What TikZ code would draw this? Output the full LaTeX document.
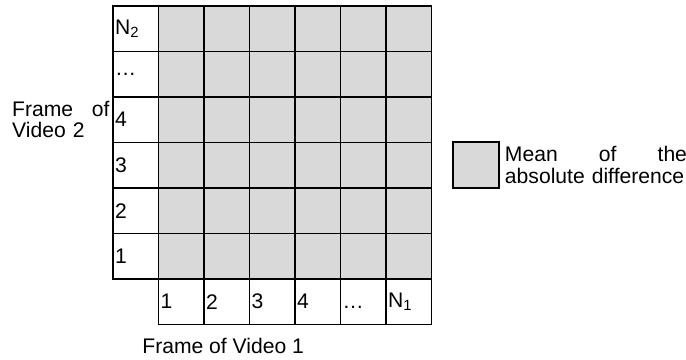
\documentclass[tikz,border=0pt]{standalone}
\usepackage{fontspec}
\setmainfont{Liberation Sans}
\usetikzlibrary{positioning}
\definecolor{cellgray}{HTML}{D9D9D9}

\begin{document}
\begin{tikzpicture}[
  font=\fontsize{13.2}{13.4}\selectfont,
  cell/.style={rectangle,draw=black,line width=1pt,minimum width=1cm,minimum height=1cm,inner sep=0pt},
  valcell/.style={cell,fill=cellgray},
  idx/.style={cell,inner xsep=1.3pt,text width=25.85pt,align=left},
  txt/.style={inner sep=0pt,align=left},
]
\useasboundingbox (-2.484,-1.78) rectangle (12.593,6.13);

% frames of video 2
\foreach \lab [count=\r] in {1,2,3,4,\ldots,N\textsubscript{2}}
  \node[idx] (row\r) at (0.5,\r-0.5) {\lab};
% frames of video 1
\foreach \lab [count=\c] in {1,2,3,4,\vphantom{1}\ldots,N\textsubscript{1}}
  \node[idx] (col\c) at (\c+0.5,-0.5) {\lab};
% one value per pair of frames
\foreach \c in {1,...,6}
  \foreach \r in {1,...,6}
    \node[valcell] (d\c-\r) at (\c+0.5,\r-0.5) {};

\node[txt,text width=2.14cm,anchor=east,font=\fontsize{13.2}{12.8}\selectfont] (ylab) at (-0.07,3.5) {Frame\hfill of\\Video 2};
\node[txt,anchor=base] (xlab) at (2.42,-1.633) {Frame of Video 1};

\node[valcell,line width=1.3pt] (legend) at (7.975,2.5) {};
\node[txt,text width=4.0cm,right=0.11cm of legend] (legtxt) {Mean\hfill of\hfill the\\absolute difference};
\end{tikzpicture}
\end{document}
